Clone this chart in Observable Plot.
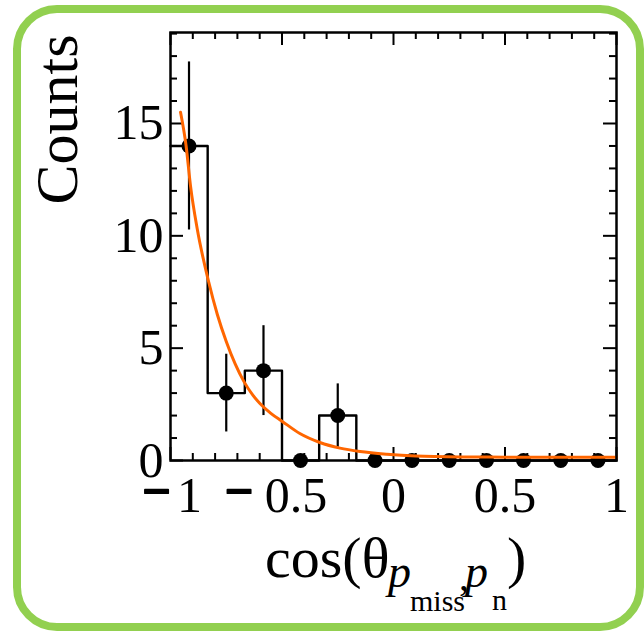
<!DOCTYPE html>
<html><head><meta charset="utf-8">
<script src="https://cdn.jsdelivr.net/npm/d3@7"></script>
<script src="https://cdn.jsdelivr.net/npm/@observablehq/plot@0.6"></script>
<style>
html,body{margin:0;padding:0;background:#fff;}
#wrap{position:relative;width:644px;height:633px;overflow:hidden;background:#fff;}
#border{position:absolute;left:13px;top:5px;width:631px;height:626px;box-sizing:border-box;border:8px solid #92d050;border-radius:44px;}
#chart{position:absolute;left:0;top:0;}
</style></head><body>
<div id="wrap"><div id="border"></div><div id="chart"></div></div>
<script>
// Histogram bins (cos θ) and counts
const binCenters = [-0.917, -0.75, -0.583, -0.417, -0.25, -0.083, 0.083, 0.25, 0.417, 0.583, 0.75, 0.917];
const binEdges = [-1, -0.8333, -0.6667, -0.5, -0.3333, -0.1667, 0, 0.1667, 0.3333, 0.5, 0.6667, 0.8333, 1];
const counts = [14, 3, 4, 0, 2, 0, 0, 0, 0, 0, 0, 0];
const errors = [3.74, 1.73, 2, 0, 1.41, 0, 0, 0, 0, 0, 0, 0];
// Fit curve
const fitX = [-0.955, -0.93, -0.91, -0.88, -0.83, -0.79, -0.75, -0.71, -0.67, -0.63, -0.6, -0.55, -0.5, -0.42, -0.33, -0.24, -0.15, -0.03, 0.1, 0.3, 0.5, 0.7, 0.9, 1.0];
const fitY = [15.5, 14.0, 12.2, 10.3, 8.0, 6.5, 5.3, 4.3, 3.5, 2.9, 2.55, 2.1, 1.75, 1.2, 0.8, 0.55, 0.4, 0.28, 0.2, 0.16, 0.15, 0.15, 0.15, 0.15];
// Axis ticks
const xMajorTicks = [-1, -0.5, 0, 0.5, 1];
const xMinorTicks = [-0.9, -0.8, -0.7, -0.6, -0.4, -0.3, -0.2, -0.1, 0.1, 0.2, 0.3, 0.4, 0.6, 0.7, 0.8, 0.9];
const yMajorTicks = [0, 5, 10, 15];
const yMinorTicks = [1, 2, 3, 4, 6, 7, 8, 9, 11, 12, 13, 14, 16, 17, 18, 19];
const yLabel = "Counts";

// layout (pixels)
const W = 644, H = 633, mL = 170, mR = 28, mT = 32, mB = 173;
const plotW = W - mL - mR, plotH = H - mT - mB;
const majLen = 13, minLen = 7;
// horizontal offsets of the number part and the minus sign of each x tick label
const numOffset = {"-1": 19, "-0.5": 14};
const minusOffset = {"-1": -14, "-0.5": -43};

const points = binCenters.map((x, i) => ({x, n: counts[i], e: errors[i]}));
const stepData = binEdges.map((x, i) => ({x, y: counts[Math.min(i, counts.length - 1)]}));
const fit = fitX.map((x, i) => ({x, y: fitY[i]}));

const labelMarks = xMajorTicks.flatMap(t => {
  const ms = [Plot.text([t], {x: d => d, y: 0, text: d => String(Math.abs(d)), lineAnchor: "top", dy: 16,
    dx: numOffset[String(t)] || 0, fontSize: 50})];
  if (t < 0) ms.push(Plot.text([t], {x: d => d, y: 0, text: () => "\u2212", lineAnchor: "top", dy: 12,
    dx: minusOffset[String(t)], fontSize: 50, fontWeight: "bold", stroke: "black", strokeWidth: 1.8, fill: "black"}));
  return ms;
});

const chart = Plot.plot({
  width: W, height: H,
  marginLeft: mL, marginRight: mR, marginTop: mT, marginBottom: mB,
  style: {fontFamily: "'Liberation Serif', 'DejaVu Serif', serif", background: "transparent", color: "black"},
  x: {domain: [-1, 1], axis: null},
  y: {domain: [0, 19.05], axis: null},
  marks: [
    // ticks
    Plot.tickX(xMajorTicks, {x: d => d, insetTop: plotH - majLen, strokeWidth: 2}),
    Plot.tickX(xMajorTicks, {x: d => d, insetBottom: plotH - majLen, strokeWidth: 2}),
    Plot.tickX(xMinorTicks, {x: d => d, insetTop: plotH - minLen, strokeWidth: 2}),
    Plot.tickX(xMinorTicks, {x: d => d, insetBottom: plotH - minLen, strokeWidth: 2}),
    Plot.tickY(yMajorTicks, {y: d => d, insetRight: plotW - majLen, strokeWidth: 2}),
    Plot.tickY(yMajorTicks, {y: d => d, insetLeft: plotW - majLen, strokeWidth: 2}),
    Plot.tickY(yMinorTicks, {y: d => d, insetRight: plotW - minLen, strokeWidth: 2}),
    Plot.tickY(yMinorTicks, {y: d => d, insetLeft: plotW - minLen, strokeWidth: 2}),
    // histogram outline
    Plot.line(stepData, {x: "x", y: "y", curve: "step-after", stroke: "black", strokeWidth: 2.4}),
    // error bars
    Plot.ruleX(points.filter(d => d.n > 0), {x: "x", y1: d => d.n - d.e, y2: d => d.n + d.e, stroke: "black", strokeWidth: 2.2}),
    // markers
    Plot.dot(points, {x: "x", y: "n", r: 7.5, fill: "black", stroke: null}),
    // fit
    Plot.line(fit, {x: "x", y: "y", stroke: "#ff6600", strokeWidth: 3, curve: "monotone-x"}),
    Plot.frame({stroke: "black", strokeWidth: 2.5}),
    Plot.axisY(yMajorTicks, {tickSize: 0, tickPadding: 7, fontSize: 50, label: null}),
    ...labelMarks,
    Plot.text([yLabel], {frameAnchor: "top-left", dx: 76 - mL, dy: 119 - mT, rotate: -90, textAnchor: "middle", lineAnchor: "bottom", fontSize: 60})
  ]
});
document.getElementById("chart").appendChild(chart);

// x-axis title with subscripts
const titleParts = [
  {t: "cos(\u03b8", x: 265, y: 577, s: 58, it: false},
  {t: "p", x: 388, y: 587, s: 46, it: true},
  {t: "miss", x: 410, y: 611, s: 30, it: false},
  {t: ",", x: 459, y: 590, s: 40, it: false},
  {t: "p", x: 465, y: 587, s: 46, it: true},
  {t: "n", x: 492, y: 610, s: 30, it: false},
  {t: ")", x: 507, y: 577, s: 58, it: false}
];
const svg = d3.select(chart);
const tt = svg.append("text").attr("fill", "black").attr("text-anchor", "start")
  .style("font-family", "'Liberation Serif', serif");
titleParts.forEach(p => {
  tt.append("tspan").attr("x", p.x).attr("y", p.y).attr("font-size", p.s)
    .attr("font-style", p.it ? "italic" : "normal").text(p.t);
});
</script></body></html>
